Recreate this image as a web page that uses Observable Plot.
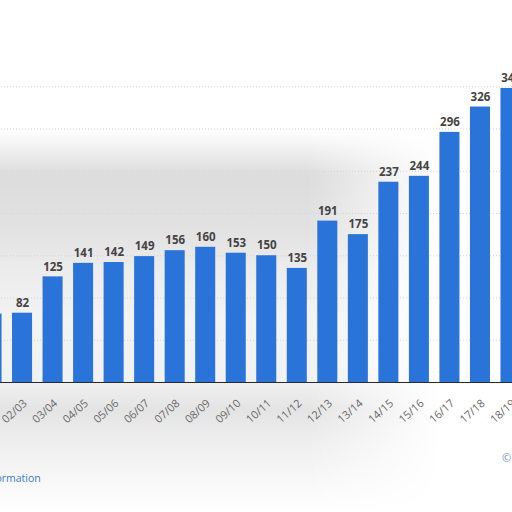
<!DOCTYPE html>
<html>
<head>
<meta charset="utf-8">
<script src="https://cdn.jsdelivr.net/npm/d3@7"></script>
<script src="https://cdn.jsdelivr.net/npm/@observablehq/plot@0.6"></script>
<style>
  html, body { margin: 0; padding: 0; width: 512px; height: 512px; overflow: hidden; background: #fff; }
  #wrap { position: relative; width: 512px; height: 512px; overflow: hidden; }
  #bg { position: absolute; left: 0; top: 0; width: 440px; height: 512px;
        background: linear-gradient(to bottom, rgba(255,255,255,0) 0px, rgba(255,255,255,0) 130px,
          #dcdcdc 175px, #e2e2e2 230px, #ececec 270px, #f3f3f3 320px, #f1f1f1 380px,
          #e4e4e4 410px, #efefef 445px, #fafafa 490px, #ffffff 512px);
        -webkit-mask-image: linear-gradient(to right, #000 0%, #000 70%, transparent 100%);
        mask-image: linear-gradient(to right, #000 0%, #000 70%, transparent 100%); }
  #chart { position: absolute; left: -29px; top: 0; width: 560px; height: 512px; }
  #chart svg { max-width: none !important; }
  #info { position: absolute; left: -70px; top: 471px; font: 10.5px "Open Sans", "DejaVu Sans", sans-serif; color: #3d7bbf; white-space: nowrap; }
  #copy { position: absolute; left: 502px; top: 450px; font: 11px "Open Sans", "DejaVu Sans", sans-serif; color: #6e8cad; white-space: nowrap; }
</style>
</head>
<body>
<div id="wrap">
  <div id="bg"></div>
  <div id="chart"></div>
  <div id="info">Additional Information</div>
  <div id="copy">© Statista 2019</div>
</div>
<script>
const seasons = ["01/02","02/03","03/04","04/05","05/06","06/07","07/08","08/09","09/10","10/11","11/12","12/13","13/14","14/15","15/16","16/17","17/18","18/19"];
const values  = [81, 82, 125, 141, 142, 149, 156, 160, 153, 150, 135, 191, 175, 237, 244, 296, 326, 348];
const gridTicks = [50, 100, 150, 200, 250, 300, 350];

const data = seasons.map((s, i) => ({season: s, value: values[i]}));

const chart = Plot.plot({
  width: 560,
  height: 512,
  marginLeft: 0,
  marginRight: 0,
  marginTop: 44,
  marginBottom: 130,
  style: {background: "transparent", overflow: "visible", maxWidth: "none"},
  x: {domain: seasons, paddingInner: 0.344, paddingOuter: 0.344, round: false, axis: null},
  y: {domain: [0, 400], axis: null},
  marks: [
    Plot.ruleY(gridTicks, {stroke: "#d4d4d4", strokeDasharray: "1,2", strokeWidth: 1}),
    Plot.barY(data, {x: "season", y: "value", fill: "#2a73d9"}),
    Plot.ruleY([0], {stroke: "#2b2b2b", strokeWidth: 1.2}),
    Plot.text(data, {x: "season", y: "value", text: d => String(d.value), dy: -10,
      fontWeight: "bold", fontSize: 11.5, fill: "#444", fontFamily: "Open Sans, DejaVu Sans, sans-serif"}),
    Plot.axisX({tickSize: 0, tickPadding: 0, rotate: -42, textAnchor: "end",
      fontSize: 11, fill: "#6a6a6a", dx: 0, dy: 16, fontFamily: "Open Sans, DejaVu Sans, sans-serif", label: null})
  ]
});
document.getElementById("chart").appendChild(chart);
</script>
</body>
</html>
